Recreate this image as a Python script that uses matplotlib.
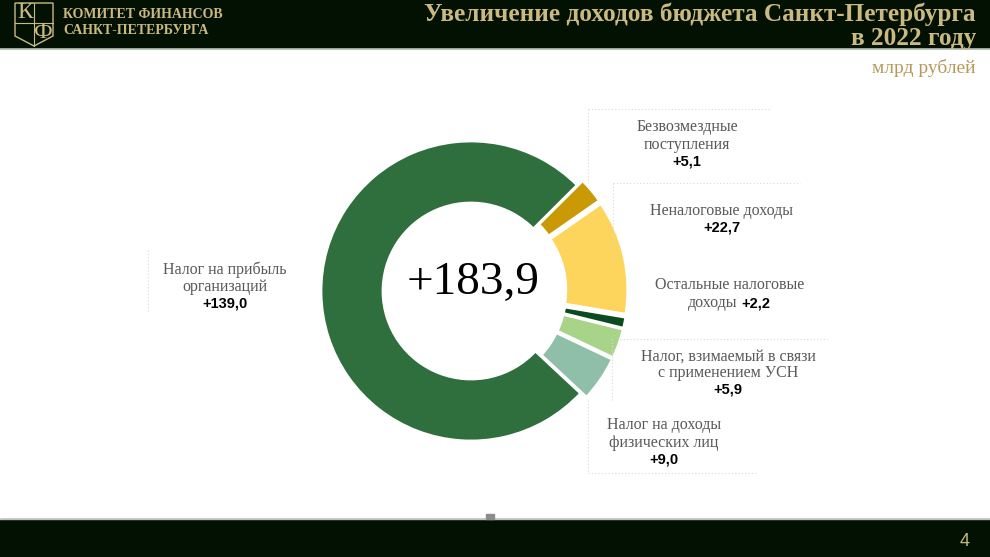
import matplotlib
matplotlib.use("Agg")
from matplotlib import pyplot as plt
from matplotlib.patches import Rectangle, Polygon

# данные
categories = ["Налог на прибыль организаций", "Безвозмездные поступления", "Неналоговые доходы",
              "Остальные налоговые доходы", "Налог, взимаемый в связи с применением УСН",
              "Налог на доходы физических лиц"]
values = [139.0, 5.1, 22.7, 2.2, 5.9, 9.0]
value_labels = ["+139,0", "+5,1", "+22,7", "+2,2", "+5,9", "+9,0"]
colors = ["#2f6e3d", "#c99a06", "#fdd55c", "#0c4a1f", "#a8d48a", "#8fbfa9"]
total_label = "+183,9"

W, H = 990, 557
DARK = "#021102"
GOLD = "#cbb982"
GRAY = "#595959"
SERIF = ["Liberation Serif", "DejaVu Serif"]
SANS = ["Liberation Sans", "DejaVu Sans"]

fig = plt.figure(figsize=(W / 100, H / 100), dpi=100)
ax = fig.add_axes([0, 0, 1, 1])
ax.set_xlim(0, W)
ax.set_ylim(0, H)
ax.set_aspect("equal")
ax.axis("off")


def Y(y):
    # пиксель сверху -> координата снизу
    return H - y


# шапка и подвал
ax.add_patch(Rectangle((0, Y(48)), W, 48, color=DARK, zorder=1))
ax.plot([0, W], [Y(49), Y(49)], color="#b7c4b5", lw=1.2, zorder=1)
ax.add_patch(Rectangle((0, 0), W, H - 519, color=DARK, zorder=1))
ax.plot([0, W], [Y(519), Y(519)], color="#b7c4b5", lw=1.0, zorder=1)
ax.add_patch(Rectangle((486, Y(519)), 8, 5, color="#8c8c8c", zorder=2))

# логотип
shield = [(15, Y(3)), (53, Y(3)), (53, Y(36)), (34, Y(46)), (15, Y(36))]
ax.add_patch(Polygon(shield, closed=True, fill=False, ec=GOLD, lw=1.0, zorder=2))
ax.plot([34, 34], [Y(3), Y(46)], color=GOLD, lw=0.8, zorder=2)
ax.plot([15, 53], [Y(23), Y(23)], color=GOLD, lw=0.8, zorder=2)
ax.text(25, Y(13), "К", color=GOLD, fontsize=17, family=SERIF, ha="center", va="center", zorder=3)
ax.text(43, Y(33), "Ф", color=GOLD, fontsize=17, family=SERIF, ha="center", va="center", zorder=3)
ax.text(63, Y(15), "КОМИТЕТ ФИНАНСОВ", color=GOLD, fontsize=10, family=SERIF, weight="bold",
        ha="left", va="center", zorder=3)
ax.text(63, Y(31), "САНКТ-ПЕТЕРБУРГА", color=GOLD, fontsize=10, family=SERIF, weight="bold",
        ha="left", va="center", zorder=3)

ax.text(976, Y(14), "Увеличение доходов бюджета Санкт-Петербурга", color=GOLD, fontsize=18.2,
        family=SERIF, weight="bold", ha="right", va="center", zorder=3)
ax.text(976, Y(38), "в 2022 году", color=GOLD, fontsize=18.2, family=SERIF, weight="bold",
        ha="right", va="center", zorder=3)
ax.text(976, Y(68), "млрд рублей", color="#b9985c", fontsize=14, family=SERIF,
        ha="right", va="center", zorder=3)
ax.text(965, Y(541), "4", color="#c9b97a", fontsize=13, family=SANS, ha="center", va="center", zorder=3)

# кольцевая диаграмма (explode задаётся в единицах осей, т.е. в пикселях)
explode = [0] + [7] * (len(values) - 1)
ax.pie(values, colors=colors, center=(471, Y(291)), radius=150, startangle=-43,
       counterclock=False, explode=explode,
       wedgeprops=dict(width=62, edgecolor="white", linewidth=2), frame=True)
ax.set_xlim(0, W)
ax.set_ylim(0, H)
ax.axis("off")
ax.text(473, Y(283), total_label, fontsize=34, family=SERIF, ha="center", va="center", zorder=5)

# пунктирные рамки подписей
dot = dict(color="#d9d9d9", lw=0.8, ls=(0, (1, 2)), zorder=2)
ax.plot([588, 770], [Y(109), Y(109)], **dot)
ax.plot([588, 588], [Y(109), Y(183)], **dot)
ax.plot([613, 800], [Y(183), Y(183)], **dot)
ax.plot([613, 613], [Y(183), Y(260)], **dot)
ax.plot([620, 830], [Y(339), Y(339)], **dot)
ax.plot([612, 612], [Y(339), Y(400)], **dot)
ax.plot([588, 757], [Y(473), Y(473)], **dot)
ax.plot([588, 588], [Y(400), Y(473)], **dot)
ax.plot([148, 148], [Y(250), Y(312)], **dot)


def label(x, ys, lines, value):
    for yy, line in zip(ys, lines):
        ax.text(x, Y(yy), line, color=GRAY, fontsize=11.5, family=SERIF, ha="center", va="center", zorder=4)
    ax.text(x, Y(ys[-1] + 17), value, color="black", fontsize=10.5, family=SANS, weight="bold",
            ha="center", va="center", zorder=4)


label(225, [270, 287], ["Налог на прибыль", "организаций"], value_labels[0])
label(687, [127, 145], ["Безвозмездные", "поступления"], value_labels[1])
label(722, [211], ["Неналоговые доходы"], value_labels[2])
ax.text(730, Y(285), "Остальные налоговые", color=GRAY, fontsize=11.5, family=SERIF,
        ha="center", va="center", zorder=4)
ax.text(737, Y(303), "доходы", color=GRAY, fontsize=11.5, family=SERIF, ha="right", va="center", zorder=4)
ax.text(741, Y(303), value_labels[3], color="black", fontsize=10.5, family=SANS, weight="bold",
        ha="left", va="center", zorder=4)
label(728, [357, 373], ["Налог, взимаемый в связи", "с применением УСН"], value_labels[4])
label(664, [425, 443], ["Налог на доходы", "физических лиц"], value_labels[5])

fig.savefig("out.png", dpi=100, facecolor="white")
